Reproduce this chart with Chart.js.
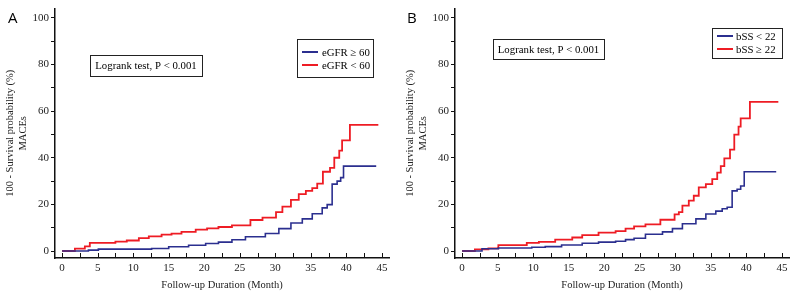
<!DOCTYPE html>
<html>
<head>
<meta charset="utf-8">
<script src="https://cdn.jsdelivr.net/npm/chart.js@4"></script>
<style>
  body { margin: 0; background: #fff; }
  .panel { position: absolute; top: 0; width: 400px; height: 292px; }
</style>
</head>
<body>
<div class="panel" style="left:0"><canvas id="chartA" width="400" height="292"></canvas></div>
<div class="panel" style="left:400px"><canvas id="chartB" width="400" height="292"></canvas></div>
<script>
// tick labels
const xTickLabels = [0, 5, 10, 15, 20, 25, 30, 35, 40, 45];
const yTickLabels = [0, 20, 40, 60, 80, 100];

// panel A: eGFR groups (month where the step lands, cumulative MACEs %)
const monthsA_low = [0, 1.8, 3.2, 3.9, 7.5, 9.1, 10.8, 12.2, 14, 15.4, 16.8, 18.8, 20.4, 22, 23.9, 26.5, 28.2, 30.1, 31, 32.2, 33.3, 34.3, 35.2, 35.9, 36.7, 37.7, 38.3, 39, 39.4, 40.5, 44.5];
const valuesA_low = [0, 1, 2, 3.5, 4, 4.5, 5.5, 6.3, 7, 7.5, 8.2, 9.2, 9.7, 10.3, 11, 13.3, 14.3, 16.7, 19, 21.9, 24.4, 25.8, 27, 28.9, 34, 35.7, 40, 43.1, 47.5, 54.1, 54.1];
const monthsA_high = [0, 3.7, 5.1, 12.6, 15, 17.8, 20.2, 22, 23.9, 25.8, 28.6, 30.5, 32.2, 33.8, 35.2, 36.6, 37.3, 38, 38.7, 39.2, 39.6, 44.2];
const valuesA_high = [0, 0.4, 0.8, 1.1, 1.8, 2.5, 3.2, 3.8, 4.8, 6.1, 7.5, 9.6, 12, 13.8, 16, 18.5, 19.9, 28.7, 30, 31.5, 36.4, 36.4];

// panel B: bSS groups
const monthsB_low = [0, 2.8, 5.1, 9.8, 11.7, 14, 16.9, 19.2, 21.6, 23, 24.2, 25.8, 28.2, 29.6, 31, 32.9, 34.3, 35.7, 36.6, 37.3, 38, 38.7, 39.2, 39.7, 44.2];
const valuesB_low = [0, 1, 1.3, 1.6, 1.9, 2.6, 3.3, 3.8, 4.2, 4.9, 5.5, 7.2, 8.2, 9.6, 11.7, 13.8, 15.9, 17.1, 18.1, 18.8, 25.8, 26.5, 27.9, 34, 34];
const monthsB_high = [0, 1.8, 3.7, 5.1, 9.1, 10.8, 13.1, 15.5, 16.9, 19.2, 21.6, 23, 24.2, 25.8, 27.9, 29.9, 30.5, 31, 31.9, 32.6, 33.3, 34.3, 35.2, 35.9, 36.4, 36.9, 37.7, 38.3, 38.9, 39.2, 40.5, 44.5];
const valuesB_high = [0, 0.7, 1.1, 2.5, 3.5, 3.9, 4.9, 5.8, 6.8, 7.9, 8.5, 9.6, 10.6, 11.4, 13.4, 15.7, 16.7, 19.5, 21.6, 23.7, 27.3, 28.7, 30.8, 33.6, 36.4, 39.7, 43.5, 49.9, 53.4, 56.9, 64, 64];

const BLUE = '#2b2f8f';
const RED = '#ee1c24';
const SERIF = '"Liberation Serif", "Times New Roman", serif';
const FS = 10.5;

function toPoints(months, values) {
    return months.map((m, i) => ({ x: m, y: values[i] }));
}

// draws panel letter, logrank box, legend box and inward x ticks
const decorPlugin = {
    id: 'decor',
    afterDraw(chart, args, opts) {
        const ctx = chart.ctx;
        ctx.save();

        // inward ticks on the x axis
        const xs = chart.scales.x;
        ctx.strokeStyle = '#111';
        ctx.lineWidth = 1;
        xs.ticks.forEach(t => {
            const px = Math.round(xs.getPixelForValue(t.value)) + 0.5;
            ctx.beginPath();
            ctx.moveTo(px, xs.top);
            ctx.lineTo(px, xs.top - 5);
            ctx.stroke();
        });

        // panel letter
        ctx.fillStyle = '#000';
        ctx.font = '15px "Open Sans", sans-serif';
        ctx.textBaseline = 'middle';
        ctx.textAlign = 'left';
        ctx.fillText(opts.letter, opts.letterX, opts.letterY);

        // logrank box
        const lb = opts.logrank;
        ctx.lineWidth = 1;
        ctx.strokeStyle = '#222';
        ctx.strokeRect(lb.x + 0.5, lb.y + 0.5, lb.w, lb.h);
        ctx.font = (FS + 0.3) + 'px ' + SERIF;
        ctx.textAlign = 'center';
        ctx.fillText('Logrank test, P < 0.001', lb.x + lb.w / 2, lb.y + lb.h / 2 + 1);

        // legend box
        const lg = opts.legend;
        ctx.strokeRect(lg.x + 0.5, lg.y + 0.5, lg.w, lg.h);
        ctx.textAlign = 'left';
        chart.data.datasets.forEach((ds, i) => {
            const y = lg.y + lg.row0 + i * lg.rowGap;
            ctx.strokeStyle = ds.borderColor;
            ctx.lineWidth = 2;
            ctx.beginPath();
            ctx.moveTo(lg.x + lg.lineX0, y);
            ctx.lineTo(lg.x + lg.lineX1, y);
            ctx.stroke();
            ctx.fillStyle = '#000';
            ctx.fillText(ds.label, lg.x + lg.textX, y + 1);
        });
        ctx.restore();
    }
};

function makeChart(id, datasets, decor) {
    const ctx = document.getElementById(id).getContext('2d');
    return new Chart(ctx, {
        type: 'line',
        data: { datasets: datasets },
        plugins: [decorPlugin],
        options: {
            responsive: false,
            animation: false,
            devicePixelRatio: 1,
            layout: { padding: { top: 5, right: 11, left: 0, bottom: 0 } },
            elements: { point: { radius: 0 } },
            plugins: {
                legend: { display: false },
                tooltip: { enabled: false },
                decor: decor
            },
            scales: {
                x: {
                    type: 'linear',
                    min: -1,
                    max: 46,
                    afterBuildTicks: s => {
                        const t = [];
                        for (let v = 0; v <= 45; v += 2.5) t.push({ value: v });
                        s.ticks = t;
                    },
                    afterFit: s => { s.height = 34; },
                    border: { display: true, color: '#111', width: 1.5 },
                    grid: { drawOnChartArea: false, drawTicks: false },
                    ticks: {
                        padding: 4,
                        color: '#222',
                        font: { family: SERIF, size: FS + 0.5 },
                        autoSkip: false,
                        maxRotation: 0,
                        callback: v => xTickLabels.includes(v) ? String(v) : ''
                    },
                    title: {
                        display: true,
                        text: 'Follow-up Duration (Month)',
                        color: '#222',
                        font: { family: SERIF, size: FS },
                        padding: { top: 1, bottom: 0 }
                    }
                },
                y: {
                    min: -3,
                    max: 104,
                    afterBuildTicks: s => {
                        const t = [];
                        for (let v = 0; v <= 100; v += 10) t.push({ value: v });
                        s.ticks = t;
                    },
                    afterFit: s => { s.width = 55; },
                    border: { display: true, color: '#111', width: 1.5 },
                    grid: { drawOnChartArea: false, drawTicks: true, tickLength: 4, color: '#111' },
                    ticks: {
                        padding: 2,
                        color: '#222',
                        font: { family: SERIF, size: FS + 0.5 },
                        autoSkip: false,
                        callback: v => yTickLabels.includes(v) ? String(v) : ''
                    },
                    title: {
                        display: true,
                        text: ['100 - Survival probability (%)', 'MACEs'],
                        color: '#222',
                        font: { family: SERIF, size: FS, lineHeight: 1.25 },
                        padding: { top: 4, bottom: 0 }
                    }
                }
            }
        }
    });
}

makeChart('chartA', [
    { label: 'eGFR \u2265 60', data: toPoints(monthsA_high, valuesA_high), borderColor: BLUE, borderWidth: 1.6, stepped: true, fill: false },
    { label: 'eGFR < 60', data: toPoints(monthsA_low, valuesA_low), borderColor: RED, borderWidth: 1.8, stepped: true, fill: false }
], {
    letter: 'A', letterX: 8, letterY: 19,
    logrank: { x: 90, y: 55, w: 112, h: 21 },
    legend: { x: 297, y: 39, w: 76, h: 38, row0: 13, rowGap: 13, lineX0: 5, lineX1: 21, textX: 25 }
});

makeChart('chartB', [
    { label: 'bSS < 22', data: toPoints(monthsB_low, valuesB_low), borderColor: BLUE, borderWidth: 1.6, stepped: true, fill: false },
    { label: 'bSS \u2265 22', data: toPoints(monthsB_high, valuesB_high), borderColor: RED, borderWidth: 1.8, stepped: true, fill: false }
], {
    letter: 'B', letterX: 7, letterY: 19,
    logrank: { x: 93, y: 39, w: 111, h: 20 },
    legend: { x: 312, y: 28, w: 70, h: 30, row0: 8, rowGap: 13, lineX0: 5, lineX1: 21, textX: 24 }
});
</script>
</body>
</html>
